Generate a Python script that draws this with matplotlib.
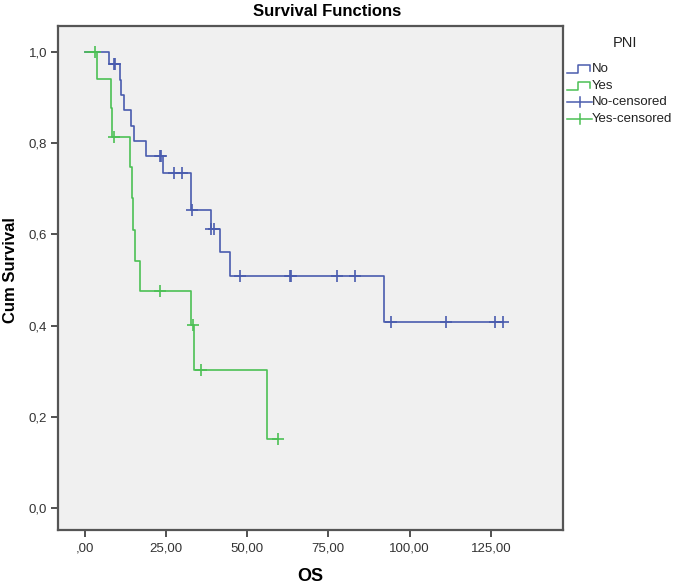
import matplotlib
matplotlib.use("Agg")
import matplotlib.pyplot as plt
from matplotlib.lines import Line2D

plt.rcParams['font.family'] = ['Liberation Sans', 'DejaVu Sans']

# ---- data ----
no_event_times = [7.6, 10.8, 11.3, 12.0, 14.4, 15.1, 19.0, 24.0, 32.7, 38.8, 41.8, 44.6, 92.0]
no_surv        = [0.972, 0.938, 0.905, 0.872, 0.837, 0.804, 0.771, 0.735, 0.653, 0.611, 0.560, 0.509, 0.408]
no_end_time = 128.6
no_cens_times = [9.0, 9.5, 23.1, 23.5, 27.4, 30.0, 33.1, 38.8, 39.9, 47.7, 63.2, 63.6, 77.6, 83.1, 94.4, 111.2, 126.2, 128.6]
no_cens_surv  = [0.972, 0.972, 0.771, 0.771, 0.735, 0.735, 0.653, 0.611, 0.611, 0.509, 0.509, 0.509, 0.509, 0.509, 0.408, 0.408, 0.408, 0.408]

yes_event_times = [3.8, 8.1, 8.4, 14.1, 14.5, 14.9, 15.5, 16.9, 32.6, 33.8, 56.0]
yes_surv        = [0.940, 0.876, 0.814, 0.748, 0.679, 0.610, 0.542, 0.475, 0.401, 0.303, 0.152]
yes_end_time = 59.5
yes_cens_times = [3.3, 9.1, 23.3, 33.5, 35.9, 59.5]
yes_cens_surv  = [1.0, 0.814, 0.475, 0.401, 0.303, 0.152]

x_ticks = [0, 25, 50, 75, 100, 125]
x_tick_labels = [',00', '25,00', '50,00', '75,00', '100,00', '125,00']
y_ticks = [0.0, 0.2, 0.4, 0.6, 0.8, 1.0]
y_tick_labels = ['0,0', '0,2', '0,4', '0,6', '0,8', '1,0']

blue = '#4a5cae'
green = '#4cc055'

W, H = 685, 586
fig = plt.figure(figsize=(W / 100, H / 100), dpi=100)
ax = fig.add_axes([58.3 / W, 1 - 530 / H, (563 - 58.3) / W, (530 - 25.6) / H])
ax.set_facecolor('#f0f0f0')

def km(times, surv, end):
    t = [0.0] + list(times) + [end]
    s = [1.0] + list(surv) + [surv[-1]]
    return t, s

t, s = km(no_event_times, no_surv, no_end_time)
ax.step(t, s, where='post', color=blue, lw=1.2)
t, s = km(yes_event_times, yes_surv, yes_end_time)
ax.step(t, s, where='post', color=green, lw=1.2)

ax.plot(no_cens_times, no_cens_surv, ls='none', marker='+', color=blue, ms=8, mew=1.2)
ax.plot(yes_cens_times, yes_cens_surv, ls='none', marker='+', color=green, ms=8, mew=1.2)

ax.set_xlim(-8.1, 147.2)
ax.set_ylim(-0.048, 1.057)
ax.set_xticks(x_ticks)
ax.set_xticklabels(x_tick_labels)
ax.set_yticks(y_ticks)
ax.set_yticklabels(y_tick_labels)
ax.tick_params(direction='out', length=5, width=1.2, color='#333333', labelsize=9.5,
               labelcolor='#333333')
ax.tick_params(axis='x', pad=4)
ax.tick_params(axis='y', pad=3)
for sp in ax.spines.values():
    sp.set_color('#555555')
    sp.set_linewidth(1.6)

ax.set_xlabel('OS', fontsize=13, fontweight='bold', labelpad=10)
ax.set_ylabel('Cum Survival', fontsize=12, fontweight='bold', labelpad=5)
ax.yaxis.set_label_coords(-0.079, (530 - 270) / (530 - 25.6))
fig.text(327 / W, 1 - 12 / H, 'Survival Functions', fontsize=12, fontweight='bold',
         ha='center', va='center')

# ---- legend (outside right) ----
def fx(x):
    return x / W
def fy(y):
    return 1 - y / H

fig.text(fx(625), fy(43), 'PNI', fontsize=10.5, ha='center', va='center', color='#222222')
entries = [('No', blue, 'step'), ('Yes', green, 'step'),
           ('No-censored', blue, 'cens'), ('Yes-censored', green, 'cens')]
y0 = 69
for i, (lab, col, kind) in enumerate(entries):
    yy = y0 + i * 16.7
    if kind == 'step':
        xs = [567, 578, 578, 590, 590]
        ys = [yy + 4, yy + 4, yy - 4, yy - 4, yy + 2]
        fig.add_artist(Line2D([fx(v) for v in xs], [fy(v) for v in ys], color=col, lw=1.1))
    else:
        fig.add_artist(Line2D([fx(567), fx(592)], [fy(yy), fy(yy)], color=col, lw=1.1))
        fig.add_artist(Line2D([fx(579.5), fx(579.5)], [fy(yy - 5), fy(yy + 5)], color=col, lw=1.1))
    fig.text(fx(592), fy(yy), lab, fontsize=9.5, ha='left', va='center', color='#222222')

fig.savefig('out.png', dpi=100)
